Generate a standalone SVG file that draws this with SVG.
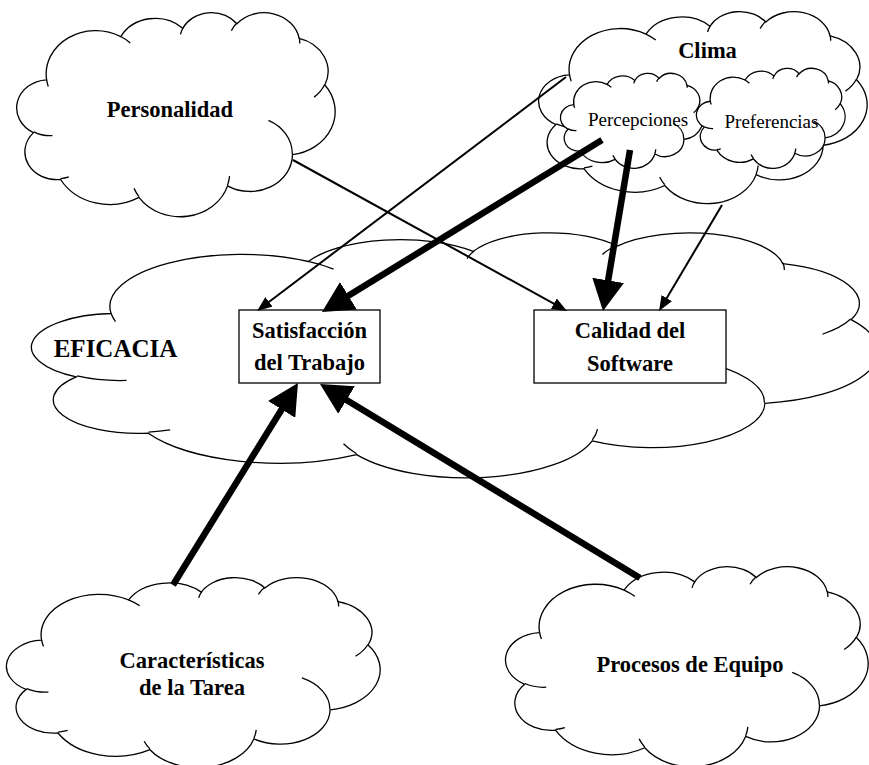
<svg xmlns="http://www.w3.org/2000/svg" width="869" height="765" viewBox="0 0 869 765">
  <style>
    .cloud { fill: #fff; stroke: #000; stroke-width: 1.3px; }
    .box { fill: #fff; stroke: #000; stroke-width: 1.3px; }
    .lbl { font-family: "Liberation Serif", "Times New Roman", serif; font-weight: bold; font-size: 22.5px; text-anchor: middle; fill: #000; }
    .big { font-size: 25px; }
    .sub { font-weight: normal; font-size: 19px; }
    .thin { stroke: #000; stroke-width: 2px; fill: none; marker-end: url(#head-sm); }
    .thick { stroke: #000; stroke-width: 6.5px; fill: none; marker-end: url(#head-lg); }
  </style>
  <defs>
    <!-- cloud outline with its inner creases, drawn in a 43200 unit box -->
    <symbol id="cloud" viewBox="0 0 43200 43200" preserveAspectRatio="none" overflow="visible">
      <path vector-effect="non-scaling-stroke" d="M3900 14370 A6753 9190 0 0 1 14005 5202 A5333 7267 0 0 1 22456 3432 A4365 5945 0 0 1 29833 2481 A4857 6595 0 0 1 38318 5576 A5333 7273 0 0 1 41818 15460 A6775 9220 0 0 1 37404 30203 A5785 7867 0 0 1 28556 36813 A6752 9215 0 0 1 16481 39264 A7720 10543 0 0 1 5805 35470 A4360 5918 0 0 1 2114 25548 A4345 5945 0 0 1 3900 14370 Z"/>
      <path vector-effect="non-scaling-stroke" fill="none" d="M4693 26177 A4345 5945 0 0 1 2160 25380 M6928 34899 A4360 5918 0 0 1 5820 35281 M16478 39090 A6752 9215 0 0 1 15810 37350 M28827 34751 A6752 9215 0 0 1 28560 36660 M34129 22954 A5785 7867 0 0 1 37380 30090 M41798 15354 A5333 7273 0 0 1 40350 18030 M38324 5426 A4857 6595 0 0 1 38400 6690 M29078 3952 A4857 6595 0 0 1 29820 2340 M22141 4720 A4365 5945 0 0 1 22500 3330 M14000 5192 A6753 9190 0 0 1 15300 6541 M4127 15789 A6753 9190 0 0 1 3900 14370"/>
    </symbol>
    <marker id="head-lg" viewBox="0 0 31 32" refX="2" refY="16" markerWidth="31" markerHeight="32" orient="auto" markerUnits="userSpaceOnUse">
      <path d="M0 0 L31 16 L0 32 Z" fill="#000"/>
    </marker>
    <marker id="head-sm" viewBox="0 0 15 12" refX="1" refY="6" markerWidth="15" markerHeight="12" orient="auto" markerUnits="userSpaceOnUse">
      <path d="M0 0 L15 6 L0 12 Z" fill="#000"/>
    </marker>
  </defs>

  <rect width="869" height="765" fill="#fff"/>

  <g id="eficacia">
    <use href="#cloud" class="cloud" x="35" y="232" width="843" height="245"/>
    <text class="lbl big" x="115.5" y="357">EFICACIA</text>
  </g>

  <g id="clima">
    <use href="#cloud" class="cloud" x="540" y="11" width="327" height="192"/>
    <text class="lbl" x="707.5" y="58">Clima</text>
  </g>

  <g id="percepciones">
    <use href="#cloud" class="cloud" x="561" y="73" width="142" height="95"/>
    <text class="lbl sub" x="638" y="126">Percepciones</text>
  </g>

  <g id="preferencias">
    <use href="#cloud" class="cloud" x="697" y="68" width="148" height="100"/>
    <text class="lbl sub" x="771.5" y="128">Preferencias</text>
  </g>

  <g id="personalidad">
    <use href="#cloud" class="cloud" x="18" y="12" width="317" height="204"/>
    <text class="lbl" x="170" y="117">Personalidad</text>
  </g>

  <g id="caracteristicas">
    <use href="#cloud" class="cloud" x="8" y="577" width="372" height="190"/>
    <text class="lbl" x="192" y="668">Características</text>
    <text class="lbl" x="192" y="695">de la Tarea</text>
  </g>

  <g id="procesos">
    <use href="#cloud" class="cloud" x="507" y="566" width="361" height="200"/>
    <text class="lbl" x="690" y="672">Procesos de Equipo</text>
  </g>

  <g id="satisfaccion">
    <rect class="box" x="239" y="310" width="141" height="73"/>
    <text class="lbl" x="309.5" y="338">Satisfacción</text>
    <text class="lbl" x="309.5" y="370">del Trabajo</text>
  </g>

  <g id="calidad">
    <rect class="box" x="534" y="310" width="192" height="73"/>
    <text class="lbl" x="630" y="338">Calidad del</text>
    <text class="lbl" x="630" y="371">Software</text>
  </g>

  <g id="connectors">
    <line class="thin" x1="566" y1="77" x2="268.2" y2="302.5"/>
    <line class="thin" x1="293" y1="160" x2="554.7" y2="304.2"/>
    <line class="thin" x1="722" y1="205" x2="666.2" y2="299"/>
    <line class="thick" x1="602" y1="140" x2="346.7" y2="296.8"/>
    <line class="thick" x1="630" y1="150" x2="607.8" y2="282.4"/>
    <line class="thick" x1="173" y1="585" x2="282.7" y2="407.7"/>
    <line class="thick" x1="640" y1="578" x2="344.8" y2="399"/>
  </g>
</svg>
